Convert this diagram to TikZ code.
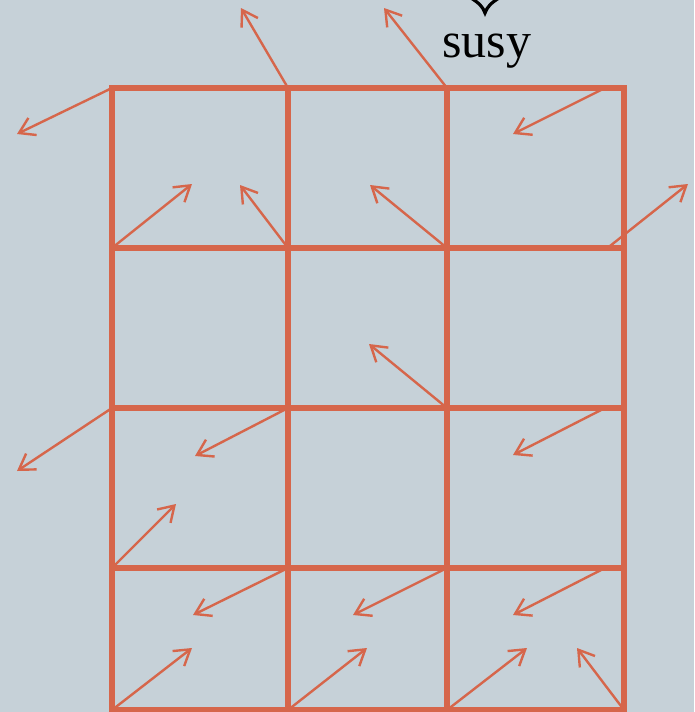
\documentclass[tikz,border=0pt]{standalone}
\usepackage{fontspec}
\setmainfont{Liberation Serif}
\usetikzlibrary{arrows.meta}
\definecolor{slate}{HTML}{C6D1D8}
\definecolor{rust}{HTML}{D6664B}
\begin{document}
\begin{tikzpicture}[x=1pt,y=-1pt]
		\tikzstyle{grid} = [rust, line width=5.5pt, line cap=rect]
		\tikzstyle{spin} = [rust, line width=2.4pt, -{Straight Barb[length=15pt, width=19pt, line width=2.4pt]}]

		% Background and size
		\fill[slate] (0,0) rectangle (694,712);
		\useasboundingbox (0,0) rectangle (694,712);

		% Lattice sites
		\foreach \x [count=\i] in {112,288,447,624}
			\foreach \y [count=\j] in {88,248,408,568,710}
				\coordinate (V\i\j) at (\x,\y);
		\coordinate (R1) at (603,89);
		\coordinate (R2) at (610,246);
		\coordinate (R3) at (603,409);
		\coordinate (R4) at (603,569);

		% Lattice bonds
		\foreach \j in {1,...,5}
			\draw[grid] (V1\j) -- (V4\j);
		\foreach \i in {1,...,4}
			\draw[grid] (V\i1) -- (V\i5);

		% Label with its pointer
		\node[anchor=base, font=\fontsize{50}{60}\selectfont] (susy) at (487,57) {susy};
		\draw[black, line width=3.2pt] (471,-2) .. controls (479,3) and (483,7) .. (485,13)
			.. controls (487,7) and (491,3) .. (499,-2);

		% Arrow ends
		\coordinate (a1) at (241,8);
		\coordinate (a2) at (384,8);
		\coordinate (a3) at (17,134);
		\coordinate (a4) at (513,134);
		\coordinate (b1) at (192,184);
		\coordinate (b2) at (240,185);
		\coordinate (b3) at (370,185);
		\coordinate (b4) at (688,184);
		\coordinate (c1) at (17,471);
		\coordinate (c2) at (195,456);
		\coordinate (c3) at (369,344);
		\coordinate (c4) at (513,455);
		\coordinate (d1) at (176,504);
		\coordinate (d2) at (193,615);
		\coordinate (d3) at (353,615);
		\coordinate (d4) at (513,615);
		\coordinate (e1) at (192,648);
		\coordinate (e2) at (367,648);
		\coordinate (e3) at (527,648);
		\coordinate (e4) at (577,648);

		% Spins on the sites
		\draw[spin] (V21) -- (a1);
		\draw[spin] (V31) -- (a2);
		\draw[spin] (V11) -- (a3);
		\draw[spin] (R1) -- (a4);
		\draw[spin] (V12) -- (b1);
		\draw[spin] (V22) -- (b2);
		\draw[spin] (V32) -- (b3);
		\draw[spin] (R2) -- (b4);
		\draw[spin] (V13) -- (c1);
		\draw[spin] (V23) -- (c2);
		\draw[spin] (V33) -- (c3);
		\draw[spin] (R3) -- (c4);
		\draw[spin] (V14) -- (d1);
		\draw[spin] (V24) -- (d2);
		\draw[spin] (V34) -- (d3);
		\draw[spin] (R4) -- (d4);
		\draw[spin] (V15) -- (e1);
		\draw[spin] (V25) -- (e2);
		\draw[spin] (V35) -- (e3);
		\draw[spin] (V45) -- (e4);

		\end{tikzpicture}
\end{document}
